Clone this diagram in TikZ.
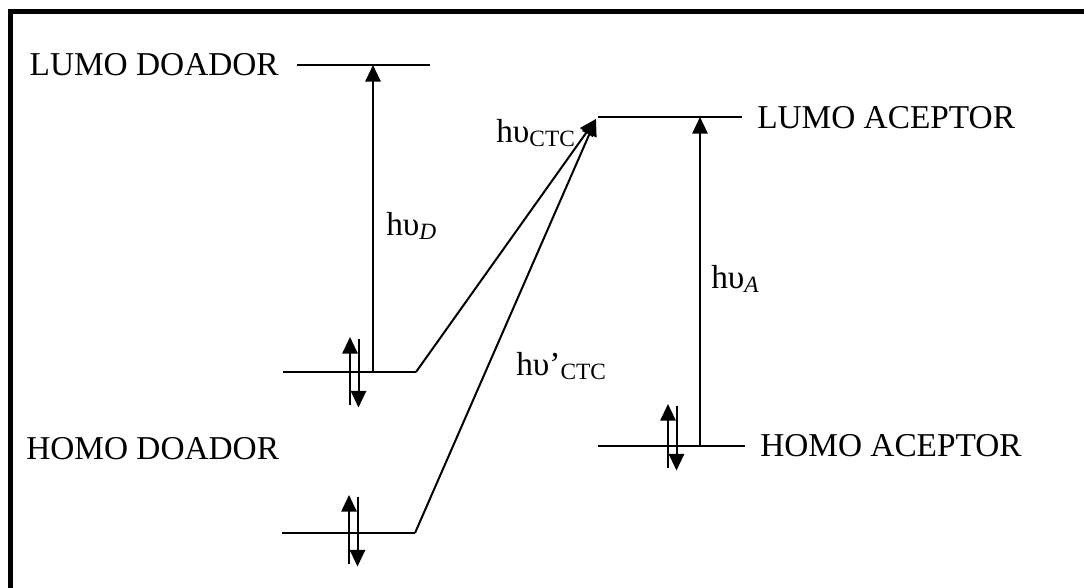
\documentclass[tikz,border=0pt]{standalone}
\usepackage{fontspec}
\setmainfont{Liberation Serif}
\usetikzlibrary{arrows.meta,calc,positioning}

\begin{document}
\begin{tikzpicture}[x=0.75pt,y=-0.75pt,
  lvl/.style={line width=1.5pt},
  trans/.style={line width=1.5pt,-{Triangle[length=12.5pt,width=11.5pt]}},
  lbl/.style={inner sep=0pt,font=\fontsize{25}{30}\selectfont}]
\useasboundingbox (0,0) rectangle (1084,587);
% frame, only top and left edges fall inside the page
\draw [line width=3.75pt] (10.5,640) -- (10.5,11.5) -- (1140,11.5);
% energy levels
\coordinate (lumoDa) at (297,65);  \coordinate (lumoDb) at (430,65);
\coordinate (homoDa) at (283,372); \coordinate (homoDb) at (416,372);
\coordinate (homoEa) at (282,533); \coordinate (homoEb) at (415,533);
\coordinate (lumoAa) at (598,117); \coordinate (lumoAb) at (742,117);
\coordinate (homoAa) at (598,446); \coordinate (homoAb) at (745,446);
\draw [lvl] (lumoDa) -- (lumoDb);
\draw [lvl] (homoDa) -- (homoDb);
\draw [lvl] (homoEa) -- (homoEb);
\draw [lvl] (lumoAa) -- (lumoAb);
\draw [lvl] (homoAa) -- (homoAb);
% electron pairs
\foreach \x/\y/\t/\b in {350/372/35/33, 349/533/38/31, 668/446/42/22}
{
  \draw [trans] (\x,\y+\b) -- (\x,\y-\t);
  \draw [trans] (\x+8.5,\y-\t+1.5) -- (\x+8.5,\y+\b+2.5);
}
% transitions
\coordinate (dfoot) at (373,372); \coordinate (dhead) at (373,65);
\coordinate (afoot) at (700,446); \coordinate (ahead) at (700,117);
\coordinate (ctc) at (596,119);
\draw [trans] (dfoot) -- (dhead);
\draw [trans] (afoot) -- (ahead);
\draw [trans] (homoDb) -- (ctc);
\draw [trans] (homoEb) -- (ctc);
% labels
\node [lbl,anchor=base east] (tlumoD) at (279,75) {LUMO DOADOR};
\node [lbl,anchor=base west] (thomoD) at (26,459) {HOMO DOADOR};
\node [lbl,anchor=base west] (tlumoA) at (757,128) {LUMO ACEPTOR};
\node [lbl,anchor=base west] (thomoA) at (760,456) {HOMO ACEPTOR};
\node [lbl,anchor=base west] (hD) at (386,235) {hυ\textsubscript{\itshape D}};
\node [lbl,anchor=base west] (hA) at (711,288) {hυ\textsubscript{\itshape A}};
\node [lbl,anchor=base west] (hC) at (496,142) {hυ\textsubscript{CTC}};
\node [lbl,anchor=base west] (hC2) at (516,375) {hυ’\textsubscript{CTC}};
\end{tikzpicture}
\end{document}
